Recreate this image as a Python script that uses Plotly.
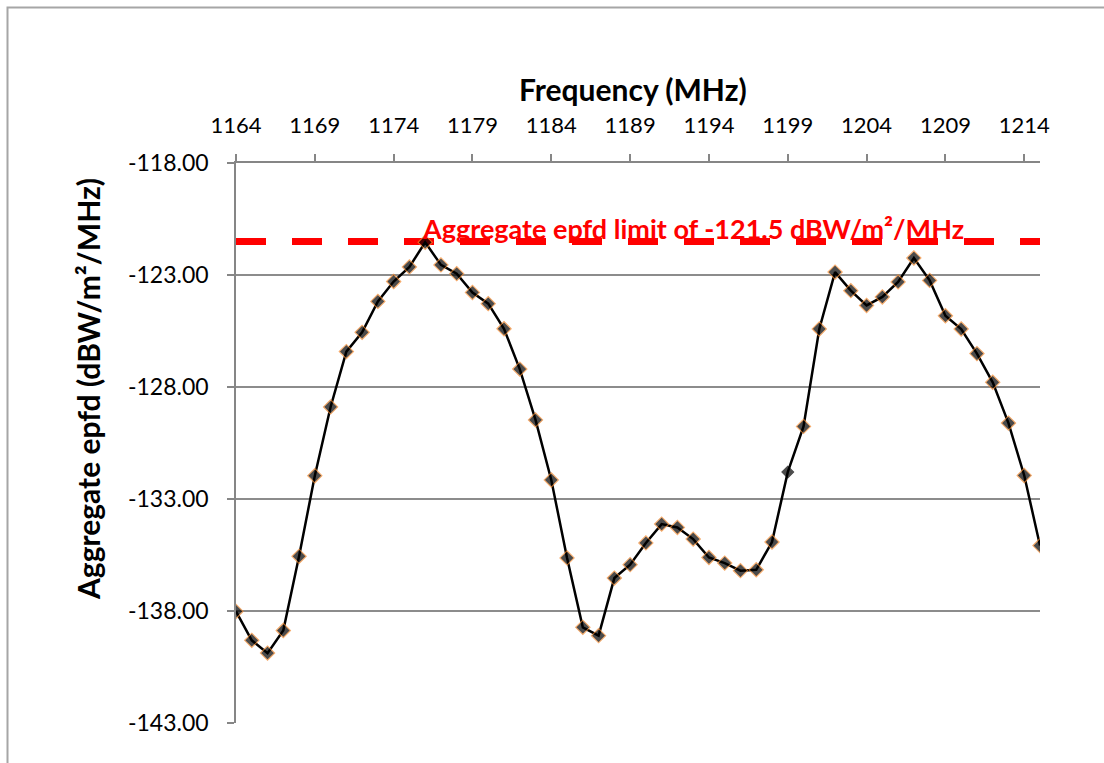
import plotly.graph_objects as go

# ---- data ----
freq = list(range(1164, 1216))
epfd = [-138.02, -139.31, -139.88, -138.87, -135.56, -131.96, -128.89, -126.42,
        -125.56, -124.18, -123.29, -122.64, -121.54, -122.55, -122.94, -123.78,
        -124.28, -125.40, -127.20, -129.47, -132.15, -135.63, -138.73, -139.10,
        -136.53, -135.93, -134.96, -134.12, -134.27, -134.79, -135.61, -135.86,
        -136.20, -136.16, -134.92, -131.80, -129.76, -125.41, -122.87, -123.70,
        -124.36, -123.98, -123.31, -122.24, -123.24, -124.82, -125.41, -126.51,
        -127.79, -129.61, -131.95, -135.08]
limit_value = -121.5
limit_label = "Aggregate epfd limit of -121.5 dBW/m²/MHz"
x_tick_vals = list(range(1164, 1215, 5))
y_tick_vals = [-118, -123, -128, -133, -138, -143]
y_tick_text = [f"{v:.2f}" for v in y_tick_vals]
plain_marker_freq = 1199  # marker drawn without orange outline

FONT = "Lato"
W, H = 1104, 763
# target plot area in screen pixels: x 236..1040, y 163..723
L = 236
R = W - 1040
T = 163
B = H - 723
PW, PH = W - L - R, H - T - B


def px_x(px):
    return (px - L) / PW


def px_y(py):
    return (H - B - py) / PH


outline = ["#000000" if f == plain_marker_freq else "#F58A2E" for f in freq]
msize = [9 if f == plain_marker_freq else 11 for f in freq]

fig = go.Figure()
fig.add_trace(go.Scatter(
    x=[freq[0], freq[-1]], y=[limit_value, limit_value], mode="lines",
    line=dict(color="#FF0000", width=7, dash="30px,26px"),
    hoverinfo="skip", showlegend=False))
fig.add_trace(go.Scatter(
    x=freq, y=epfd, mode="lines+markers",
    line=dict(color="#000000", width=2.5),
    marker=dict(symbol="diamond", size=msize, color="#000000",
                line=dict(color=outline, width=1.1)),
    showlegend=False))

fig.update_layout(
    width=W, height=H,
    margin=dict(l=L, r=R, t=T, b=B),
    paper_bgcolor="white", plot_bgcolor="white",
    font=dict(family=FONT, color="#000000"),
    xaxis=dict(range=[freq[0], freq[-1]], side="top", tickvals=x_tick_vals,
               showgrid=False, zeroline=False, showline=True,
               linecolor="#868686", linewidth=1.5,
               ticks="outside", ticklen=7, tickcolor="#868686", tickwidth=1.5,
               tickfont=dict(family=FONT, size=22), ticklabelstandoff=12),
    yaxis=dict(range=[-143, -118], tickvals=y_tick_vals, ticktext=y_tick_text,
               showgrid=True, gridcolor="#8c8c8c", gridwidth=1.5,
               zeroline=False, showline=True, linecolor="#868686", linewidth=1.5,
               ticks="outside", ticklen=7, tickcolor="#868686", tickwidth=1.5,
               tickfont=dict(family=FONT, size=23), ticklabelstandoff=14),
    annotations=[
        dict(text="<b>Frequency (MHz)</b>", xref="paper", yref="paper",
             x=px_x(633), y=px_y(89), showarrow=False, xanchor="center",
             yanchor="middle", font=dict(family=FONT, size=30)),
        dict(text="<b>Aggregate epfd (dBW/m²/MHz)</b>", xref="paper", yref="paper",
             x=px_x(88), y=px_y(389), showarrow=False, textangle=-90,
             xanchor="center", yanchor="middle", font=dict(family=FONT, size=30)),
        dict(text=f"<b>{limit_label}</b>", xref="paper", yref="paper",
             x=px_x(693), y=px_y(228), showarrow=False, xanchor="center",
             yanchor="middle", font=dict(family=FONT, size=27, color="#FF0000")),
    ],
    shapes=[dict(type="rect", xref="paper", yref="paper",
                 x0=px_x(7.5), x1=px_x(1300), y0=px_y(900), y1=px_y(7.5),
                 line=dict(color="#a6a6a6", width=2), fillcolor="rgba(0,0,0,0)",
                 layer="below")],
)

fig.write_html("out.html",
               config={"displayModeBar": False},
               post_script="document.body.style.margin='0px';"
                           "document.body.style.overflow='hidden';")
